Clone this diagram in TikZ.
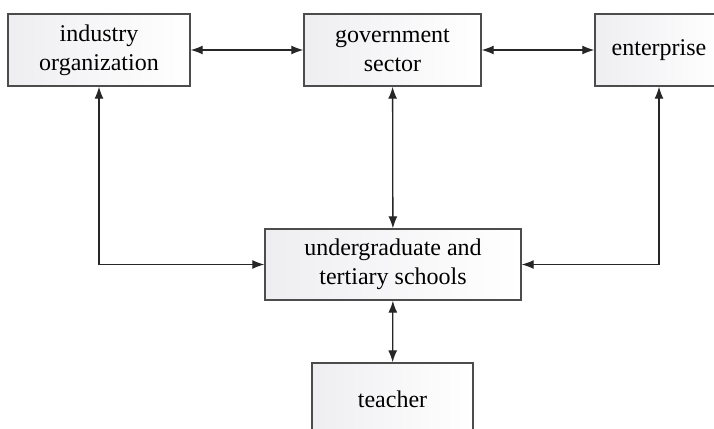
\documentclass[tikz,border=0pt]{standalone}
\usepackage{fontspec}
\setmainfont{Liberation Serif}
\usetikzlibrary{arrows.meta}

\tikzset{
	unit/.style={draw=black!70,line width=1.4pt,left color=blue!10!gray!12,right color=white,
		align=center,inner sep=0pt,font=\fontsize{24}{29}\selectfont,text=black},
	link/.style={{Latex[length=12pt,width=9pt]}-{Latex[length=12pt,width=9pt]},line width=1.3pt,color=black!85}
}

\begin{document}
\begin{tikzpicture}[x=1pt,y=-1pt]
		\clip (0,0) rectangle (714,428);
		\fill[white] (0,0) rectangle (714,428);
		% upper row
		\node[unit,minimum width=182pt,minimum height=72pt] (industry) at (99,50) {industry\\organization};
		\node[unit,minimum width=177pt,minimum height=72pt] (government) at (392.5,50) {government\\sector};
		\node[unit,minimum width=128pt,minimum height=72pt] (enterprise) at (659,50) {enterprise};
		% schools and teacher
		\node[unit,minimum width=256pt,minimum height=71pt] (schools) at (393,264.5) {undergraduate and\\tertiary schools};
		\node[unit,minimum width=161pt,minimum height=72pt] (teacher) at (392.5,399) {teacher};
		% connectors
		\draw[link] (industry) -- (government);
		\draw[link] (government) -- (enterprise);
		\draw[link] (government) -- (schools);
		\draw[link] (industry.south) |- (schools.west);
		\draw[link] (enterprise.south) |- (schools.east);
		\draw[link] (schools) -- (teacher);
	\end{tikzpicture}
\end{document}
